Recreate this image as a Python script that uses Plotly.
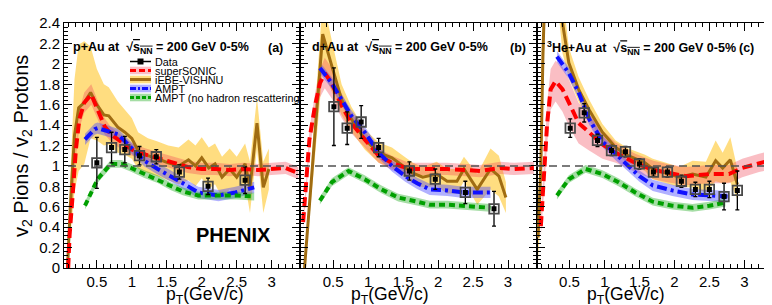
import plotly.graph_objects as go

# ---------------- data ----------------
# panel (a) p+Au
data_a_x = [0.50, 0.71, 0.90, 1.11, 1.35, 1.68, 2.09, 2.62]
data_a_y = [1.03, 1.18, 1.16, 1.10, 1.09, 0.94, 0.80, 0.86]
data_a_e = [0.25, 0.15, 0.13, 0.09, 0.07, 0.07, 0.08, 0.13]

sonic_a_x = [0.09, 0.11, 0.16, 0.20, 0.25, 0.32, 0.42, 0.51, 0.61, 0.70, 0.85, 1.00, 1.20, 1.40, 1.60, 1.80, 2.00, 2.20, 2.40, 2.60, 2.80, 3.00, 3.20, 3.38]
sonic_a_y = [0.00, 0.32, 0.77, 1.16, 1.46, 1.62, 1.70, 1.55, 1.39, 1.31, 1.23, 1.16, 1.11, 1.07, 1.03, 0.99, 0.97, 0.97, 0.96, 0.97, 0.96, 0.97, 0.98, 0.93]
sonic_a_e = [0.02, 0.04, 0.06, 0.08, 0.09, 0.10, 0.10, 0.09, 0.08, 0.07, 0.07, 0.06, 0.06, 0.06, 0.06, 0.06, 0.06, 0.06, 0.06, 0.06, 0.06, 0.06, 0.06, 0.06]

vish_a_x = [0.08, 0.12, 0.18, 0.24, 0.32, 0.41, 0.50, 0.60, 0.67, 0.80, 0.90, 1.00, 1.09, 1.23, 1.37, 1.52, 1.67, 1.81, 1.91, 2.00, 2.10, 2.19, 2.29, 2.40, 2.50, 2.62, 2.69, 2.79, 2.88, 2.96]
vish_a_y = [0.00, 0.60, 1.30, 1.57, 1.62, 1.72, 1.60, 1.50, 1.49, 1.38, 1.33, 1.27, 1.15, 1.10, 1.07, 1.03, 1.00, 1.06, 1.00, 1.08, 0.98, 1.02, 0.89, 0.97, 0.89, 1.02, 0.79, 1.42, 0.79, 0.97]
vish_a_e = [0.05, 0.30, 0.55, 0.62, 0.60, 0.45, 0.35, 0.30, 0.28, 0.25, 0.22, 0.20, 0.18, 0.17, 0.17, 0.17, 0.18, 0.20, 0.20, 0.20, 0.20, 0.20, 0.20, 0.20, 0.20, 0.20, 0.25, 0.25, 0.25, 0.20]

ampt_a_x = [0.33, 0.47, 0.51, 0.66, 0.80, 0.99, 1.18, 1.37, 1.56, 1.73, 1.95, 2.24, 2.48, 2.75]
ampt_a_y = [1.26, 1.36, 1.37, 1.34, 1.31, 1.18, 1.05, 0.97, 0.90, 0.83, 0.74, 0.71, 0.74, 0.79]

nores_a_x = [0.33, 0.51, 0.70, 0.85, 0.99, 1.18, 1.37, 1.56, 1.73, 1.95, 2.24, 2.50, 2.75]
nores_a_y = [0.61, 0.87, 1.02, 1.02, 0.98, 0.92, 0.87, 0.80, 0.75, 0.71, 0.71, 0.71, 0.70]

# panel (b) d+Au
data_b_x = [0.51, 0.70, 0.90, 1.15, 1.59, 1.96, 2.39, 2.80]
data_b_y = [1.58, 1.37, 1.43, 1.18, 0.95, 0.87, 0.74, 0.58]
data_b_e = [0.38, 0.16, 0.16, 0.09, 0.09, 0.10, 0.11, 0.17]

sonic_b_x = [0.07, 0.12, 0.16, 0.24, 0.31, 0.38, 0.48, 0.62, 0.76, 0.95, 1.15, 1.34, 1.58, 1.80, 2.13, 2.40, 2.60, 2.89, 3.09, 3.37]
sonic_b_y = [0.45, 0.84, 1.26, 1.59, 1.81, 1.91, 1.81, 1.59, 1.42, 1.26, 1.10, 1.03, 0.97, 0.97, 0.97, 0.96, 0.95, 0.98, 0.97, 0.98]
sonic_b_e = [0.06, 0.08, 0.10, 0.12, 0.14, 0.15, 0.15, 0.12, 0.10, 0.08, 0.07, 0.07, 0.06, 0.06, 0.06, 0.06, 0.06, 0.06, 0.06, 0.06]

vish_b_x = [0.09, 0.35, 0.48, 0.62, 0.76, 0.95, 1.15, 1.34, 1.50, 1.64, 1.78, 1.98, 2.13, 2.27, 2.37, 2.56, 2.75, 2.87, 2.97]
vish_b_y = [0.00, 2.29, 1.98, 1.65, 1.46, 1.26, 1.13, 1.08, 1.00, 0.93, 0.89, 0.92, 0.85, 0.85, 0.97, 0.77, 0.97, 0.90, 0.69]
vish_b_e = [0.05, 0.35, 0.25, 0.15, 0.12, 0.10, 0.10, 0.10, 0.10, 0.10, 0.10, 0.12, 0.12, 0.12, 0.12, 0.15, 0.20, 0.20, 0.15]

ampt_b_x = [0.31, 0.48, 0.62, 0.76, 0.95, 1.15, 1.34, 1.53, 1.70, 1.88, 2.13, 2.37, 2.75]
ampt_b_y = [1.96, 1.81, 1.65, 1.49, 1.33, 1.13, 1.00, 0.90, 0.83, 0.77, 0.76, 0.74, 0.74]

nores_b_x = [0.31, 0.48, 0.72, 0.95, 1.19, 1.43, 1.70, 1.88, 2.13, 2.75]
nores_b_y = [0.66, 0.84, 0.95, 0.87, 0.77, 0.69, 0.65, 0.62, 0.62, 0.59]

# panel (c) 3He+Au
data_c_x = [0.51, 0.71, 0.90, 1.10, 1.30, 1.50, 1.70, 1.90, 2.10, 2.30, 2.50, 2.71, 2.90]
data_c_y = [1.37, 1.52, 1.25, 1.15, 1.14, 1.02, 0.94, 0.94, 0.85, 0.77, 0.77, 0.70, 0.76]
data_c_e = [0.09, 0.09, 0.06, 0.05, 0.05, 0.05, 0.04, 0.05, 0.06, 0.07, 0.08, 0.13, 0.19]

sonic_c_x = [0.09, 0.13, 0.18, 0.23, 0.30, 0.40, 0.49, 0.63, 0.78, 0.97, 1.16, 1.44, 1.70, 1.90, 2.16, 2.50, 2.78, 2.97, 3.21, 3.40]
sonic_c_y = [0.41, 0.84, 1.42, 1.75, 1.83, 1.75, 1.62, 1.42, 1.33, 1.21, 1.13, 1.03, 0.96, 0.93, 0.90, 0.92, 0.92, 0.98, 1.03, 1.06]
sonic_c_e = [0.10, 0.15, 0.20, 0.20, 0.20, 0.22, 0.23, 0.20, 0.18, 0.14, 0.10, 0.09, 0.09, 0.09, 0.09, 0.09, 0.09, 0.09, 0.09, 0.09]

vish_c_x = [0.05, 0.09, 0.12, 0.16, 0.25, 0.33, 0.40, 0.49, 0.63, 0.78, 0.97, 1.16, 1.34, 1.58, 1.69, 1.88, 2.07, 2.26, 2.45, 2.59, 2.69, 2.80, 2.90]
vish_c_y = [0.30, 1.00, 2.10, 3.00, 3.30, 3.00, 2.40, 2.01, 1.75, 1.55, 1.33, 1.18, 1.10, 1.03, 0.97, 0.93, 0.89, 0.92, 0.89, 1.05, 0.98, 1.06, 0.82]
vish_c_e = [0.25, 0.40, 0.40, 0.40, 0.40, 0.40, 0.30, 0.15, 0.12, 0.10, 0.08, 0.07, 0.07, 0.08, 0.10, 0.10, 0.10, 0.13, 0.15, 0.20, 0.15, 0.22, 0.15]

ampt_c_x = [0.32, 0.49, 0.63, 0.78, 0.97, 1.16, 1.34, 1.50, 1.69, 1.97, 2.26, 2.54, 2.76]
ampt_c_y = [2.07, 1.91, 1.72, 1.46, 1.24, 1.11, 1.00, 0.90, 0.81, 0.76, 0.72, 0.71, 0.70]

nores_c_x = [0.32, 0.49, 0.73, 0.97, 1.20, 1.44, 1.69, 1.97, 2.26, 2.50, 2.73]
nores_c_y = [0.71, 0.87, 0.97, 0.92, 0.84, 0.74, 0.65, 0.61, 0.59, 0.61, 0.64]

AMPT_BAND = 0.055
NORES_BAND = 0.038

systems = ["p+Au", "d+Au", "<sup>3</sup>He+Au"]
panel_tags = ["(a)", "(b)", "(c)"]
legend_labels = ["Data", "superSONIC", "iEBE-VISHNU", "AMPT", "AMPT (no hadron rescattering"]
x_ticks = [0.5, 1, 1.5, 2, 2.5, 3]
y_ticks = [0, 0.2, 0.4, 0.6, 0.8, 1, 1.2, 1.4, 1.6, 1.8, 2, 2.2, 2.4]

# ---------------- styles ----------------
FONT = "Liberation Sans"
RED = "#ff0000"
BROWN = "#a06c12"
BLUE = "#1010ff"
GREEN = "#00a000"
PINK_FILL = "rgba(240,70,85,0.35)"
YEL_FILL = "rgba(255,200,50,0.62)"
BLUE_FILL = "rgba(70,70,255,0.42)"
GREEN_FILL = "rgba(30,170,30,0.40)"
RED_DASH = "10px,5px"
BLUE_DASH = "10px,4px,3px,4px"
GREEN_DASH = "6px,4px"

L, R, T, B = 56, 7, 15, 45
W, H = 772, 305
PW, PH = W - L - R, H - T - B


def px(xp):
    return (xp - L) / PW


def py(yp):
    return (T + PH - yp) / PH


def band(x, y, e):
    if not isinstance(e, list):
        e = [e] * len(x)
    up = [a + b for a, b in zip(y, e)]
    lo = [a - b for a, b in zip(y, e)]
    return list(x) + list(x[::-1]), up + lo[::-1]


fig = go.Figure()

panels = [
    (data_a_x, data_a_y, data_a_e, sonic_a_x, sonic_a_y, sonic_a_e, vish_a_x, vish_a_y, vish_a_e,
     ampt_a_x, ampt_a_y, nores_a_x, nores_a_y),
    (data_b_x, data_b_y, data_b_e, sonic_b_x, sonic_b_y, sonic_b_e, vish_b_x, vish_b_y, vish_b_e,
     ampt_b_x, ampt_b_y, nores_b_x, nores_b_y),
    (data_c_x, data_c_y, data_c_e, sonic_c_x, sonic_c_y, sonic_c_e, vish_c_x, vish_c_y, vish_c_e,
     ampt_c_x, ampt_c_y, nores_c_x, nores_c_y),
]

for i, p in enumerate(panels):
    (dx, dy, de, sx, sy, se, vx, vy, ve, ax_, ay_, nx, ny) = p
    xa = "x" if i == 0 else f"x{i+1}"
    ya = "y" if i == 0 else f"y{i+1}"
    kw = dict(xaxis=xa, yaxis=ya, showlegend=False, hoverinfo="skip")
    bx, by = band(vx, vy, ve)
    fig.add_trace(go.Scatter(x=bx, y=by, fill="toself", fillcolor=YEL_FILL, mode="none", **kw))
    bx, by = band(sx, sy, se)
    fig.add_trace(go.Scatter(x=bx, y=by, fill="toself", fillcolor=PINK_FILL, mode="none", **kw))
    bx, by = band(ax_, ay_, AMPT_BAND)
    fig.add_trace(go.Scatter(x=bx, y=by, fill="toself", fillcolor=BLUE_FILL, mode="none", **kw))
    bx, by = band(nx, ny, NORES_BAND)
    fig.add_trace(go.Scatter(x=bx, y=by, fill="toself", fillcolor=GREEN_FILL, mode="none", **kw))
    fig.add_trace(go.Scatter(x=vx, y=vy, mode="lines", line=dict(color=BROWN, width=3), **kw))
    fig.add_trace(go.Scatter(x=sx, y=sy, mode="lines", line=dict(color=RED, width=4, dash=RED_DASH), **kw))
    fig.add_trace(go.Scatter(x=ax_, y=ay_, mode="lines", line=dict(color=BLUE, width=4, dash=BLUE_DASH), **kw))
    fig.add_trace(go.Scatter(x=nx, y=ny, mode="lines", line=dict(color=GREEN, width=4, dash=GREEN_DASH), **kw))
    fig.add_trace(go.Scatter(x=dx, y=dy, mode="markers",
                             marker=dict(symbol="square", size=5, color="black"),
                             error_y=dict(type="data", array=de, color="black", thickness=1.3, width=2),
                             **kw))
    fig.add_trace(go.Scatter(x=dx, y=dy, mode="markers",
                             marker=dict(symbol="square-open", size=9.5, color="#4a4a4a",
                                         line=dict(width=1.8, color="#4a4a4a")), **kw))

dom = [[0, 1 / 3], [1 / 3, 2 / 3], [2 / 3, 1]]
axis_common = dict(showline=True, linecolor="black", linewidth=1, mirror="allticks",
                   ticks="inside", tickcolor="black", zeroline=False, showgrid=False)
layout = dict(width=W, height=H, margin=dict(l=L, r=R, t=T, b=B),
              paper_bgcolor="white", plot_bgcolor="white",
              font=dict(family=FONT, color="black"), showlegend=False)
for i in range(3):
    xk = "xaxis" if i == 0 else f"xaxis{i+1}"
    yk = "yaxis" if i == 0 else f"yaxis{i+1}"
    layout[xk] = dict(domain=dom[i], range=[0.03, 3.41], anchor="y" if i == 0 else f"y{i+1}",
                      tickvals=x_ticks, ticktext=[f"{v:g}" for v in x_ticks], ticklen=8, tickwidth=1,
                      minor=dict(dtick=0.1, tick0=0, ticklen=4, ticks="inside", tickcolor="black", showgrid=False),
                      tickfont=dict(size=15, family=FONT), **axis_common)
    layout[yk] = dict(domain=[0, 1], range=[0, 2.4], anchor="x" if i == 0 else f"x{i+1}",
                      tickvals=y_ticks, ticktext=[f"{v:g}" for v in y_ticks], ticklen=8, tickwidth=1,
                      showticklabels=(i == 0),
                      minor=dict(dtick=0.04, tick0=0, ticklen=4, ticks="inside", tickcolor="black", showgrid=False),
                      tickfont=dict(size=15, family=FONT), **axis_common)
fig.update_layout(**layout)

shapes = []
shapes.append(dict(type="line", xref="paper", yref="y", x0=px(60), x1=1, y0=1, y1=1,
                   line=dict(color="#505050", width=1.5, dash="8px,5px")))

annotations = []
title_cx = [153, 392, 633]
tag_x = [267, 510, 738]
for i in range(3):
    txt = (f"<b>{systems[i]} at  \u221a<span style='text-decoration:overline'>s<sub>NN</sub></span>"
           f" = 200 GeV 0-5%</b>")
    annotations.append(dict(x=px(title_cx[i]), y=py(40), xref="paper", yref="paper", text=txt,
                            showarrow=False, xanchor="center", yanchor="middle",
                            font=dict(size=12.5, family=FONT)))
    annotations.append(dict(x=px(tag_x[i]), y=py(40), xref="paper", yref="paper",
                            text=f"<b>{panel_tags[i]}</b>", showarrow=False, xanchor="center",
                            yanchor="middle", font=dict(size=12.5, family=FONT)))

for xc in [197, 382, 618]:
    annotations.append(dict(x=px(xc), y=py(287), xref="paper", yref="paper",
                            text="p<sub>T</sub>(GeV/c)", showarrow=False, xanchor="center",
                            yanchor="middle", font=dict(size=17.5, family=FONT)))
annotations.append(dict(x=px(14), y=py(138), xref="paper", yref="paper",
                        text="v<sub>2</sub> Pions / v<sub>2</sub> Protons", textangle=-90,
                        showarrow=False, xanchor="center", yanchor="middle",
                        font=dict(size=20, family=FONT)))
annotations.append(dict(x=px(225), y=py(227), xref="paper", yref="paper", text="<b>PHENIX</b>",
                        showarrow=False, xanchor="center", yanchor="middle",
                        font=dict(size=20, family=FONT)))

ly = [53.5, 62.5, 71.5, 80.5, 89.5]
lx0, lx1 = 122, 143
fills = [None, PINK_FILL, YEL_FILL, BLUE_FILL, GREEN_FILL]
lines = [("black", 1.5, "solid"), (RED, 3, "6px,3px"), (BROWN, 3, "solid"), (BLUE, 3, "6px,2px,2px,2px"),
         (GREEN, 3, "4px,2px")]
for k in range(5):
    yy = py(ly[k])
    if fills[k]:
        shapes.append(dict(type="rect", xref="paper", yref="paper", x0=px(lx0), x1=px(lx1),
                           y0=py(ly[k] + 3.8), y1=py(ly[k] - 3.8), fillcolor=fills[k], line=dict(width=0)))
    c, w, d = lines[k]
    shapes.append(dict(type="line", xref="paper", yref="paper", x0=px(lx0), x1=px(lx1), y0=yy, y1=yy,
                       line=dict(color=c, width=w, dash=d)))
    if k == 0:
        shapes.append(dict(type="rect", xref="paper", yref="paper", x0=px(129.5), x1=px(135.5),
                           y0=py(ly[k] + 3), y1=py(ly[k] - 3), fillcolor="black", line=dict(width=0)))
    annotations.append(dict(x=px(145), y=yy, xref="paper", yref="paper", text=legend_labels[k],
                            showarrow=False, xanchor="left", yanchor="middle",
                            font=dict(size=10.8, family=FONT)))

fig.update_layout(shapes=shapes, annotations=annotations)
fig.write_html("out.html")
